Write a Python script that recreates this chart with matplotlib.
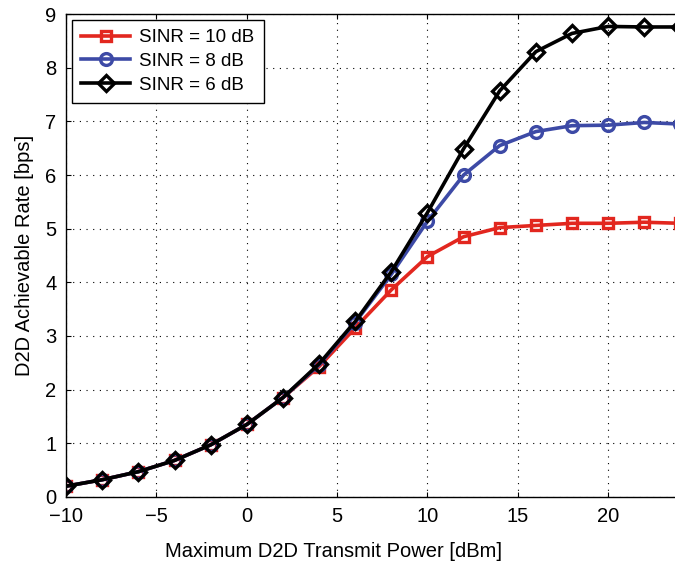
import matplotlib
matplotlib.use("Agg")
import matplotlib.pyplot as plt

power = [-10, -8, -6, -4, -2, 0, 2, 4, 6, 8, 10, 12, 14, 16, 18, 20, 22, 24]
rate_10db = [0.2, 0.32, 0.47, 0.68, 0.97, 1.35, 1.85, 2.43, 3.15, 3.86, 4.48, 4.85, 5.02, 5.06, 5.1, 5.1, 5.12, 5.1]
rate_8db = [0.2, 0.32, 0.47, 0.68, 0.97, 1.35, 1.85, 2.46, 3.25, 4.15, 5.14, 6.0, 6.55, 6.81, 6.92, 6.93, 6.98, 6.95]
rate_6db = [0.2, 0.32, 0.47, 0.68, 0.97, 1.35, 1.85, 2.48, 3.27, 4.2, 5.3, 6.49, 7.57, 8.3, 8.64, 8.77, 8.76, 8.76]

plt.rcParams['font.family'] = ['Liberation Sans', 'DejaVu Sans']

fig = plt.figure(figsize=(6.75, 5.64), dpi=100)
ax = fig.add_axes([0.098, 0.119, 0.91, 0.856])

ax.plot(power, rate_10db, color="#e2271f", lw=2.6, marker="s", ms=7,
        mfc="none", mew=2.4, label="SINR = 10 dB")
ax.plot(power, rate_8db, color="#3d4aa6", lw=2.6, marker="o", ms=8.5,
        mfc="none", mew=2.4, label="SINR = 8 dB")
ax.plot(power, rate_6db, color="black", lw=2.6, marker="D", ms=8,
        mfc="none", mew=2.4, label="SINR = 6 dB")

ax.set_xlim(-10, 24)
ax.set_ylim(0, 9)
ax.set_xticks([-10, -5, 0, 5, 10, 15, 20])
ax.set_xticklabels(["\u221210", "\u22125", "0", "5", "10", "15", "20"])
ax.set_yticks(range(10))
ax.tick_params(direction="in", labelsize=14.5, top=True, right=True, pad=7)
ax.grid(True, linestyle=(0, (1, 5)), color="black", lw=0.8)
for s in ax.spines.values():
    s.set_linewidth(1.0)

ax.set_xlabel("Maximum D2D Transmit Power [dBm]", fontsize=14.5)
ax.xaxis.set_label_coords(0.436, -0.093)
ax.set_ylabel("D2D Achievable Rate [bps]", fontsize=14.5, labelpad=8)

leg = ax.legend(loc="upper left", fontsize=13.5, fancybox=False, framealpha=1,
                edgecolor="black", borderaxespad=0.3, handlelength=2.6,
                labelspacing=0.35, borderpad=0.5, handletextpad=0.5)
leg.get_frame().set_linewidth(1.0)

fig.savefig("out.png", dpi=100)
